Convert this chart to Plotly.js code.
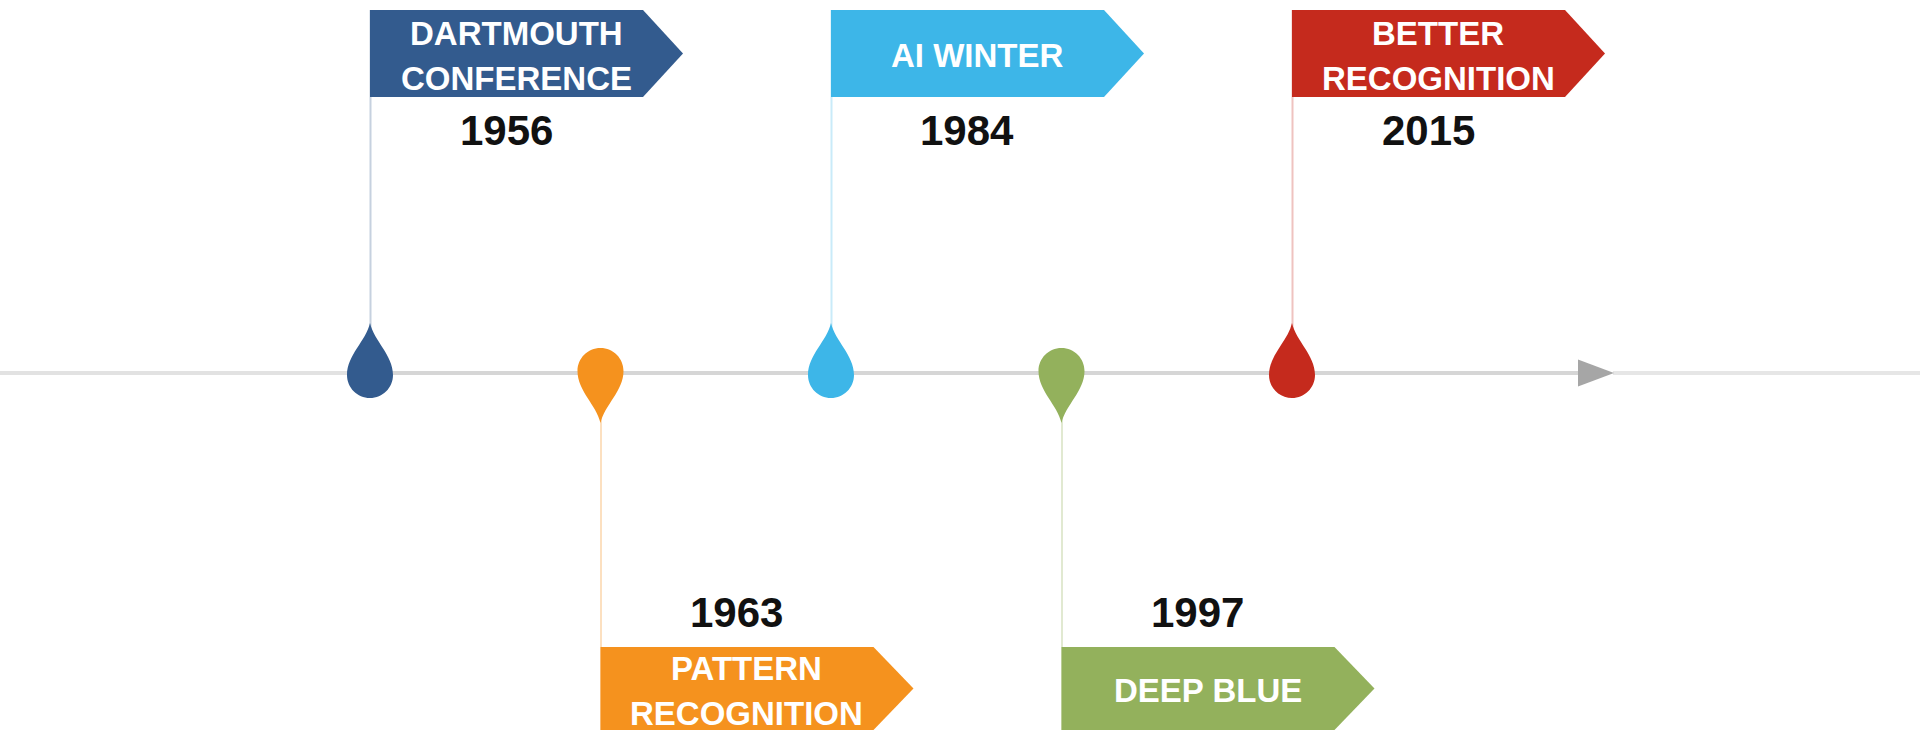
<!DOCTYPE html>
<html>
<head>
<meta charset="utf-8">
<script src="https://cdn.plot.ly/plotly-3.0.1.min.js"></script>
<style>html,body{margin:0;padding:0;background:#fff;}#chart{width:1920px;height:735px;}</style>
</head>
<body>
<div id="chart"></div>
<script>
// ---- data ----
const years  = ['1956', '1963', '1984', '1997', '2015'];
const labels = ['DARTMOUTH<br>CONFERENCE', 'PATTERN<br>RECOGNITION', 'AI WINTER', 'DEEP BLUE', 'BETTER<br>RECOGNITION'];
const colors = ['#335b8e', '#f5921e', '#3db6e8', '#93b15c', '#c52a1d'];
const sides  = [1, -1, 1, -1, 1];   // 1 = flag above the line, -1 = below

// ---- geometry (pixel-based styling) ----
const W = 1920, H = 735;
const PX_PER_X = 230.5;        // pixels per event step
const X0PX = 370;              // pixel position of first event
const LINE_PX = 373;           // pixel row of the timeline
const xmin = -X0PX / PX_PER_X, xmax = (W - X0PX) / PX_PER_X;
const yTop = LINE_PX, yBot = LINE_PX - H;

const ux = (i, dpx) => i + dpx / PX_PER_X;       // x in data units
const pxToX = px => (px - X0PX) / PX_PER_X;

function lighten(hex, t) {
  const n = parseInt(hex.slice(1), 16);
  const r = (n >> 16) & 255, g = (n >> 8) & 255, b = n & 255;
  const f = c => Math.round(c + (255 - c) * t);
  return `rgb(${f(r)},${f(g)},${f(b)})`;
}

function pathFrom(i, pts) {
  return pts.map(p => p[0] + ' ' + p.slice(1).map(q => ux(i, q[0]).toFixed(5) + ',' + q[1].toFixed(2)).join(' ')).join(' ') + ' Z';
}

function dropPath(i, dir) {
  const r = 23, t = 50 * dir, s = dir, c = -2 * dir;
  const k = 12.7;
  return pathFrom(i, [
    ['M', [0, t]],
    ['C', [4, 32 * s], [r, 20 * s + c], [r, c]],
    ['C', [r, -k * s + c], [k, -r * s + c], [0, -r * s + c]],
    ['C', [-k, -r * s + c], [-r, -k * s + c], [-r, c]],
    ['C', [-r, 20 * s + c], [-4, 32 * s], [0, t]]
  ]);
}

const FLAG = {top: [363, -274], bot: [276, -357]};
function flagPath(i, dir) {
  const k = dir > 0 ? 0 : 1;
  const top = FLAG.top[k], bot = FLAG.bot[k];
  const mid = (top + bot) / 2;
  return pathFrom(i, [
    ['M', [0, top]],
    ['L', [273, top]],
    ['L', [313, mid]],
    ['L', [273, bot]],
    ['L', [0, bot]]
  ]);
}

const shapes = [];
// timeline
shapes.push({type: 'line', xref: 'x', yref: 'y', x0: xmin, x1: pxToX(348), y0: 0, y1: 0,
  line: {color: '#e2e2e2', width: 4}});
shapes.push({type: 'line', xref: 'x', yref: 'y', x0: pxToX(348), x1: pxToX(1580), y0: 0, y1: 0,
  line: {color: '#d6d6d6', width: 4}});
shapes.push({type: 'line', xref: 'x', yref: 'y', x0: pxToX(1613), x1: xmax, y0: 0, y1: 0,
  line: {color: '#e6e6e6', width: 4}});
shapes.push({type: 'path', xref: 'x', yref: 'y',
  path: `M ${pxToX(1578)},13.5 L ${pxToX(1614)},0 L ${pxToX(1578)},-13.5 Z`,
  fillcolor: '#a6a6a6', line: {width: 0}});

// poles
years.forEach((y, i) => {
  const d = sides[i];
  shapes.push({type: 'line', xref: 'x', yref: 'y', x0: ux(i, 0.5), x1: ux(i, 0.5),
    y0: 0, y1: d > 0 ? 363 : -357,
    line: {color: lighten(colors[i], 0.72), width: 2}});
});
// drops and flags
years.forEach((y, i) => {
  const d = sides[i];
  shapes.push({type: 'path', xref: 'x', yref: 'y', path: dropPath(i, d),
    fillcolor: colors[i], line: {width: 0}});
  shapes.push({type: 'path', xref: 'x', yref: 'y', path: flagPath(i, d),
    fillcolor: colors[i], line: {width: 0}});
});

const annotations = [];
const LINE_GAP = 45;
years.forEach((y, i) => {
  const d = sides[i];
  const k = d > 0 ? 0 : 1;
  const mid = (FLAG.top[k] + FLAG.bot[k]) / 2 - 2;
  const lines = labels[i].split('<br>');
  lines.forEach((ln, j) => {
    const off = (j - (lines.length - 1) / 2) * LINE_GAP;
    annotations.push({x: ux(i, 146), y: mid - off, xref: 'x', yref: 'y', text: '<b>' + ln + '</b>',
      showarrow: false, xanchor: 'center', yanchor: 'middle',
      font: {family: 'Liberation Sans, Arial, sans-serif', size: 33, color: '#ffffff'}});
  });
  annotations.push({x: ux(i, 136), y: d > 0 ? 243 : -239, xref: 'x', yref: 'y', text: '<b>' + y + '</b>',
    showarrow: false, xanchor: 'center', yanchor: 'middle',
    font: {family: 'Liberation Sans, Arial, sans-serif', size: 42, color: '#111111'}});
});

const trace = {
  type: 'scatter', mode: 'markers',
  x: years.map((y, i) => i), y: years.map(() => 0),
  marker: {size: 1, color: 'rgba(0,0,0,0)'},
  hoverinfo: 'text', text: years, showlegend: false
};

const layout = {
  width: W, height: H,
  margin: {l: 0, r: 0, t: 0, b: 0, pad: 0},
  paper_bgcolor: '#ffffff', plot_bgcolor: '#ffffff',
  xaxis: {range: [xmin, xmax], visible: false, fixedrange: true},
  yaxis: {range: [yBot, yTop], visible: false, fixedrange: true},
  shapes: shapes, annotations: annotations, showlegend: false
};

Plotly.newPlot('chart', [trace], layout, {displayModeBar: false, staticPlot: true});
</script>
</body>
</html>
